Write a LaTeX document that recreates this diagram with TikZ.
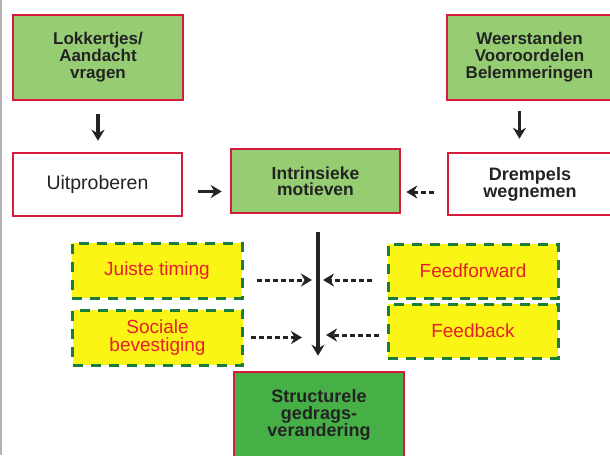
\documentclass[tikz,border=0pt]{standalone}
\usepackage{fontspec}
\setmainfont{Liberation Sans}
\usetikzlibrary{arrows.meta}
\definecolor{lightgreen}{RGB}{150,205,115}
\definecolor{boxred}{RGB}{215,25,60}
\definecolor{darkgreen}{RGB}{70,175,70}
\definecolor{dashgreen}{RGB}{25,125,60}
\definecolor{boxyellow}{RGB}{250,245,20}
\definecolor{txtred}{RGB}{230,30,45}
\definecolor{txtgray}{RGB}{35,35,35}
\tikzset{
  redbox/.style={draw=boxred,line width=2.5pt,align=center,inner sep=0pt,text=txtgray},
  greenbox/.style={redbox,fill=lightgreen,font=\bfseries\fontsize{17}{17}\selectfont},
  whitebox/.style={redbox,fill=white},
  yellowbox/.style={draw=dashgreen,line width=3pt,dash pattern=on 10pt off 8pt,fill=boxyellow,
    text=txtred,align=center,inner sep=0pt,minimum width=170pt,minimum height=55pt,
    font=\fontsize{19}{18}\selectfont},
  arr/.style={txtgray,line width=3.5pt,-{Stealth[length=11pt,width=13pt]}},
  darr/.style={arr,line width=3pt,dash pattern=on 5pt off 3pt},
}
\begin{document}
\begin{tikzpicture}[x=1pt,y=-1pt]
\useasboundingbox (0,0) rectangle (610,455);
\draw[gray!60,line width=1.5pt] (1,0) -- (1,455);
% top row
\node[greenbox,minimum width=170pt,minimum height=85pt] (lok) at (98,57.5) {Lokkertjes/\\Aandacht\\vragen};
\node[greenbox,minimum width=165pt,minimum height=85pt] (weer) at (529.5,57.5) {Weerstanden\\Vooroordelen\\Belemmeringen};
% middle row
\node[whitebox,minimum width=169pt,minimum height=63pt,font=\fontsize{19.5}{19}\selectfont] (uit) at (97.5,184.5) {Uitproberen};
\node[greenbox,minimum width=169pt,minimum height=64pt,font=\bfseries\fontsize{17.5}{16.5}\selectfont] (intr) at (315.5,181) {Intrinsieke\\motieven};
\node[whitebox,minimum width=164pt,minimum height=62pt,font=\bfseries\fontsize{18}{17}\selectfont] (drem) at (530,184) {Drempels\\wegnemen};
% factors
\node[yellowbox] (jui) at (157,270.5) {Juiste timing};
\node[yellowbox] (soc) at (157.5,337.5) {Sociale\\bevestiging};
\node[yellowbox,minimum height=54pt] (ffw) at (473,271) {Feedforward};
\node[yellowbox,minimum height=54pt] (fbk) at (473,331) {Feedback};
% result
\node[greenbox,fill=darkgreen,minimum width=170pt,minimum height=86pt,font=\bfseries\fontsize{18}{17}\selectfont] (str) at (319,415) {Structurele\\gedrags-\\verandering};
\coordinate (spine) at (318,232);
% arrows
\draw[arr,shorten <=13pt,shorten >=11pt] (lok.south) -- (lok.south |- uit.north);
\draw[arr,shorten <=10pt,shorten >=13pt] ([xshift=-10pt]weer.south) -- ([xshift=-10pt]weer.south |- drem.north);
\draw[arr,shorten <=15pt,shorten >=8pt] ([yshift=-7pt]uit.east) -- ([yshift=-7pt]uit.east -| intr.west);
\draw[darr,shorten <=13pt,shorten >=5pt] ([yshift=-8pt]drem.west) -- ([yshift=-8pt]drem.west -| intr.east);
\draw[arr,shorten >=15pt] (spine) -- (spine |- str.north);
\draw[darr,shorten <=13pt,shorten >=6pt] ([yshift=-9.5pt]jui.east) -- ([yshift=-9.5pt]jui.east -| spine);
\draw[darr,shorten <=7pt,shorten >=16pt] (soc.east) -- (soc.east -| spine);
\draw[darr,shorten <=15pt,shorten >=5pt] ([yshift=-9pt]ffw.west) -- ([yshift=-9pt]ffw.west -| spine);
\draw[darr,shorten <=8pt,shorten >=8pt] ([yshift=-4pt]fbk.west) -- ([yshift=-4pt]fbk.west -| spine);
\end{tikzpicture}
\end{document}
